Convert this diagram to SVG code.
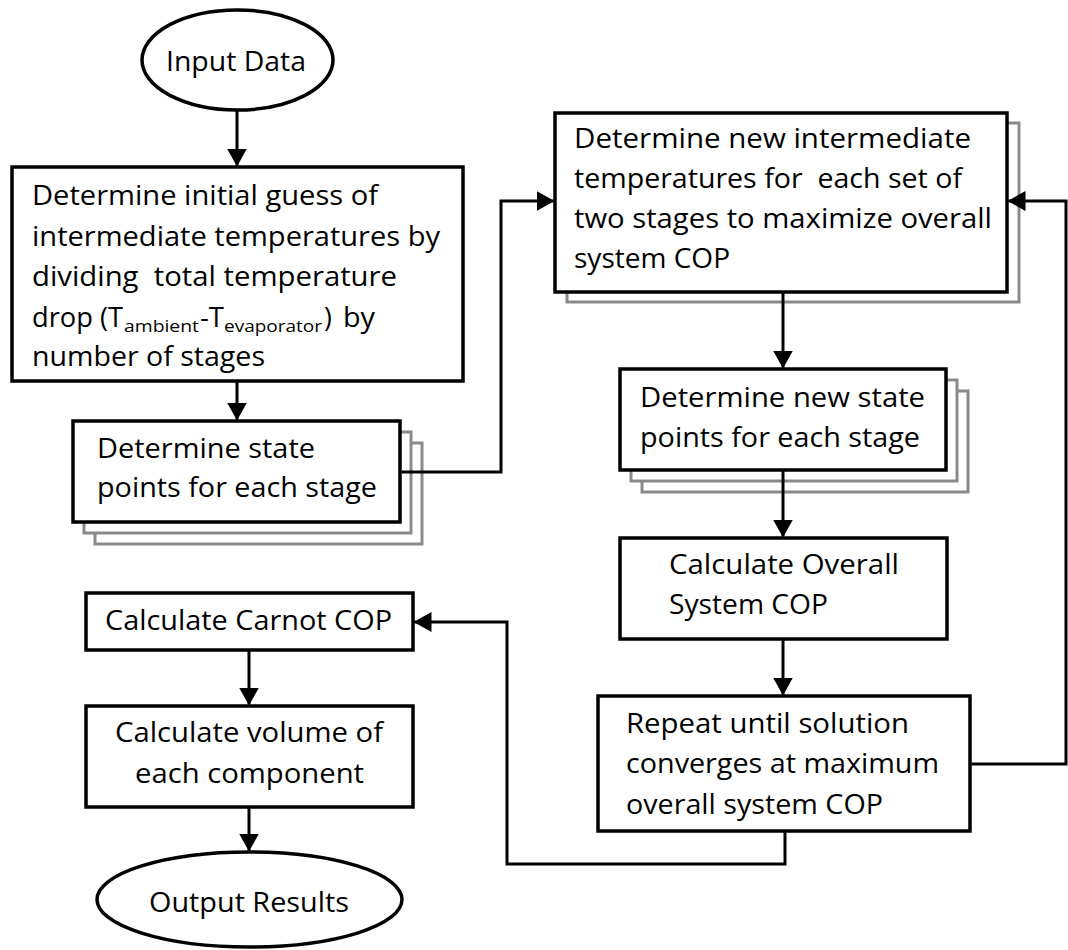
<svg xmlns="http://www.w3.org/2000/svg" width="1068" height="950" viewBox="0 0 1068 950">
<defs>
<marker id="ah" markerUnits="userSpaceOnUse" markerWidth="18" markerHeight="20" refX="17" refY="10" orient="auto">
<path d="M0,0 L18,10 L0,20 Z" fill="#000"/>
</marker>
</defs>
<style>
.box{fill:#fff;stroke:#000;stroke-width:3.5}
.sh{fill:#fff;stroke:#8a8a8a;stroke-width:3}
.t{font-family:"Open Sans","Liberation Sans",sans-serif;font-size:26.5px;fill:#000}
.sub{font-size:16.5px}
.c{fill:none;stroke:#000;stroke-width:3;marker-end:url(#ah)}
</style>
<rect width="1068" height="950" fill="#fff"/>
<g id="input-data">
<ellipse class="box" cx="237.5" cy="60" rx="95.5" ry="50"/>
<text class="t" x="166" y="71" textLength="140" lengthAdjust="spacingAndGlyphs">Input Data</text>
</g>
<g id="initial-guess">
<rect class="box" x="12" y="167" width="451" height="214"/>
<text class="t" x="32" y="205" textLength="346" lengthAdjust="spacingAndGlyphs">Determine initial guess of</text>
<text class="t" x="32" y="246" textLength="408" lengthAdjust="spacingAndGlyphs">intermediate temperatures by</text>
<text class="t" x="32" y="286" textLength="365" lengthAdjust="spacingAndGlyphs" xml:space="preserve">dividing  total temperature</text>
<text class="t" y="327"><tspan x="32" textLength="91" lengthAdjust="spacingAndGlyphs">drop (T</tspan><tspan class="sub" x="124" dy="5" textLength="75" lengthAdjust="spacingAndGlyphs">ambient</tspan><tspan x="200" dy="-5" textLength="24" lengthAdjust="spacingAndGlyphs">-T</tspan><tspan class="sub" x="224" dy="5" textLength="98" lengthAdjust="spacingAndGlyphs">evaporator</tspan><tspan x="324" dy="-5">)</tspan><tspan x="343" textLength="32" lengthAdjust="spacingAndGlyphs">by</tspan></text>
<text class="t" x="32" y="366" textLength="233" lengthAdjust="spacingAndGlyphs">number of stages</text>
</g>
<g id="state-points">
<rect class="sh" x="95" y="443" width="327" height="101"/>
<rect class="sh" x="84" y="432" width="327" height="101"/>
<rect class="box" x="73" y="421" width="327" height="101"/>
<text class="t" x="97" y="458" textLength="218" lengthAdjust="spacingAndGlyphs">Determine state</text>
<text class="t" x="97" y="497" textLength="280" lengthAdjust="spacingAndGlyphs">points for each stage</text>
</g>
<g id="new-intermediate">
<rect class="sh" x="567" y="123" width="452" height="179"/>
<rect class="box" x="555" y="113" width="452" height="179"/>
<text class="t" x="574" y="148" textLength="397" lengthAdjust="spacingAndGlyphs">Determine new intermediate</text>
<text class="t" x="574" y="188" textLength="388" lengthAdjust="spacingAndGlyphs" xml:space="preserve">temperatures for  each set of</text>
<text class="t" x="574" y="228" textLength="418" lengthAdjust="spacingAndGlyphs">two stages to maximize overall</text>
<text class="t" x="574" y="268" textLength="156" lengthAdjust="spacingAndGlyphs">system COP</text>
</g>
<g id="new-state-points">
<rect class="sh" x="642" y="391" width="326" height="101"/>
<rect class="sh" x="631" y="380" width="326" height="101"/>
<rect class="box" x="620" y="369" width="326" height="101"/>
<text class="t" x="640" y="407" textLength="285" lengthAdjust="spacingAndGlyphs">Determine new state</text>
<text class="t" x="640" y="447" textLength="280" lengthAdjust="spacingAndGlyphs">points for each stage</text>
</g>
<g id="overall-cop">
<rect class="box" x="620" y="538" width="327" height="101"/>
<text class="t" x="669" y="574" textLength="230" lengthAdjust="spacingAndGlyphs">Calculate Overall</text>
<text class="t" x="669" y="614" textLength="159" lengthAdjust="spacingAndGlyphs">System COP</text>
</g>
<g id="repeat">
<rect class="box" x="598" y="696" width="372" height="135"/>
<text class="t" x="626" y="733" textLength="283" lengthAdjust="spacingAndGlyphs">Repeat until solution</text>
<text class="t" x="626" y="773" textLength="313" lengthAdjust="spacingAndGlyphs">converges at maximum</text>
<text class="t" x="626" y="814" textLength="257" lengthAdjust="spacingAndGlyphs">overall system COP</text>
</g>
<g id="carnot-cop">
<rect class="box" x="86" y="593" width="327" height="57"/>
<text class="t" x="105" y="630" textLength="287" lengthAdjust="spacingAndGlyphs">Calculate Carnot COP</text>
</g>
<g id="volume">
<rect class="box" x="86" y="706" width="327" height="101"/>
<text class="t" x="115" y="742" textLength="268" lengthAdjust="spacingAndGlyphs">Calculate volume of</text>
<text class="t" x="135" y="783" textLength="229" lengthAdjust="spacingAndGlyphs">each component</text>
</g>
<g id="output-results">
<ellipse class="box" cx="249.5" cy="899.5" rx="152.5" ry="47.5"/>
<text class="t" x="149" y="912" textLength="200" lengthAdjust="spacingAndGlyphs">Output Results</text>
</g>
<g id="connectors">
<path class="c" d="M237,110 V165.5"/>
<path class="c" d="M237,381 V419.5"/>
<path class="c" d="M401.5,472 H501 V201 H553.5"/>
<path class="c" d="M783,292 V367.5"/>
<path class="c" d="M783,470 V536.5"/>
<path class="c" d="M783,639 V694.5"/>
<path class="c" d="M971.5,764 H1066 V201 H1008.5"/>
<path class="c" d="M785,831 V864 H507 V622 H414.5"/>
<path class="c" d="M249,650 V704.5"/>
<path class="c" d="M249,807 V850.5"/>
</g>
</svg>
